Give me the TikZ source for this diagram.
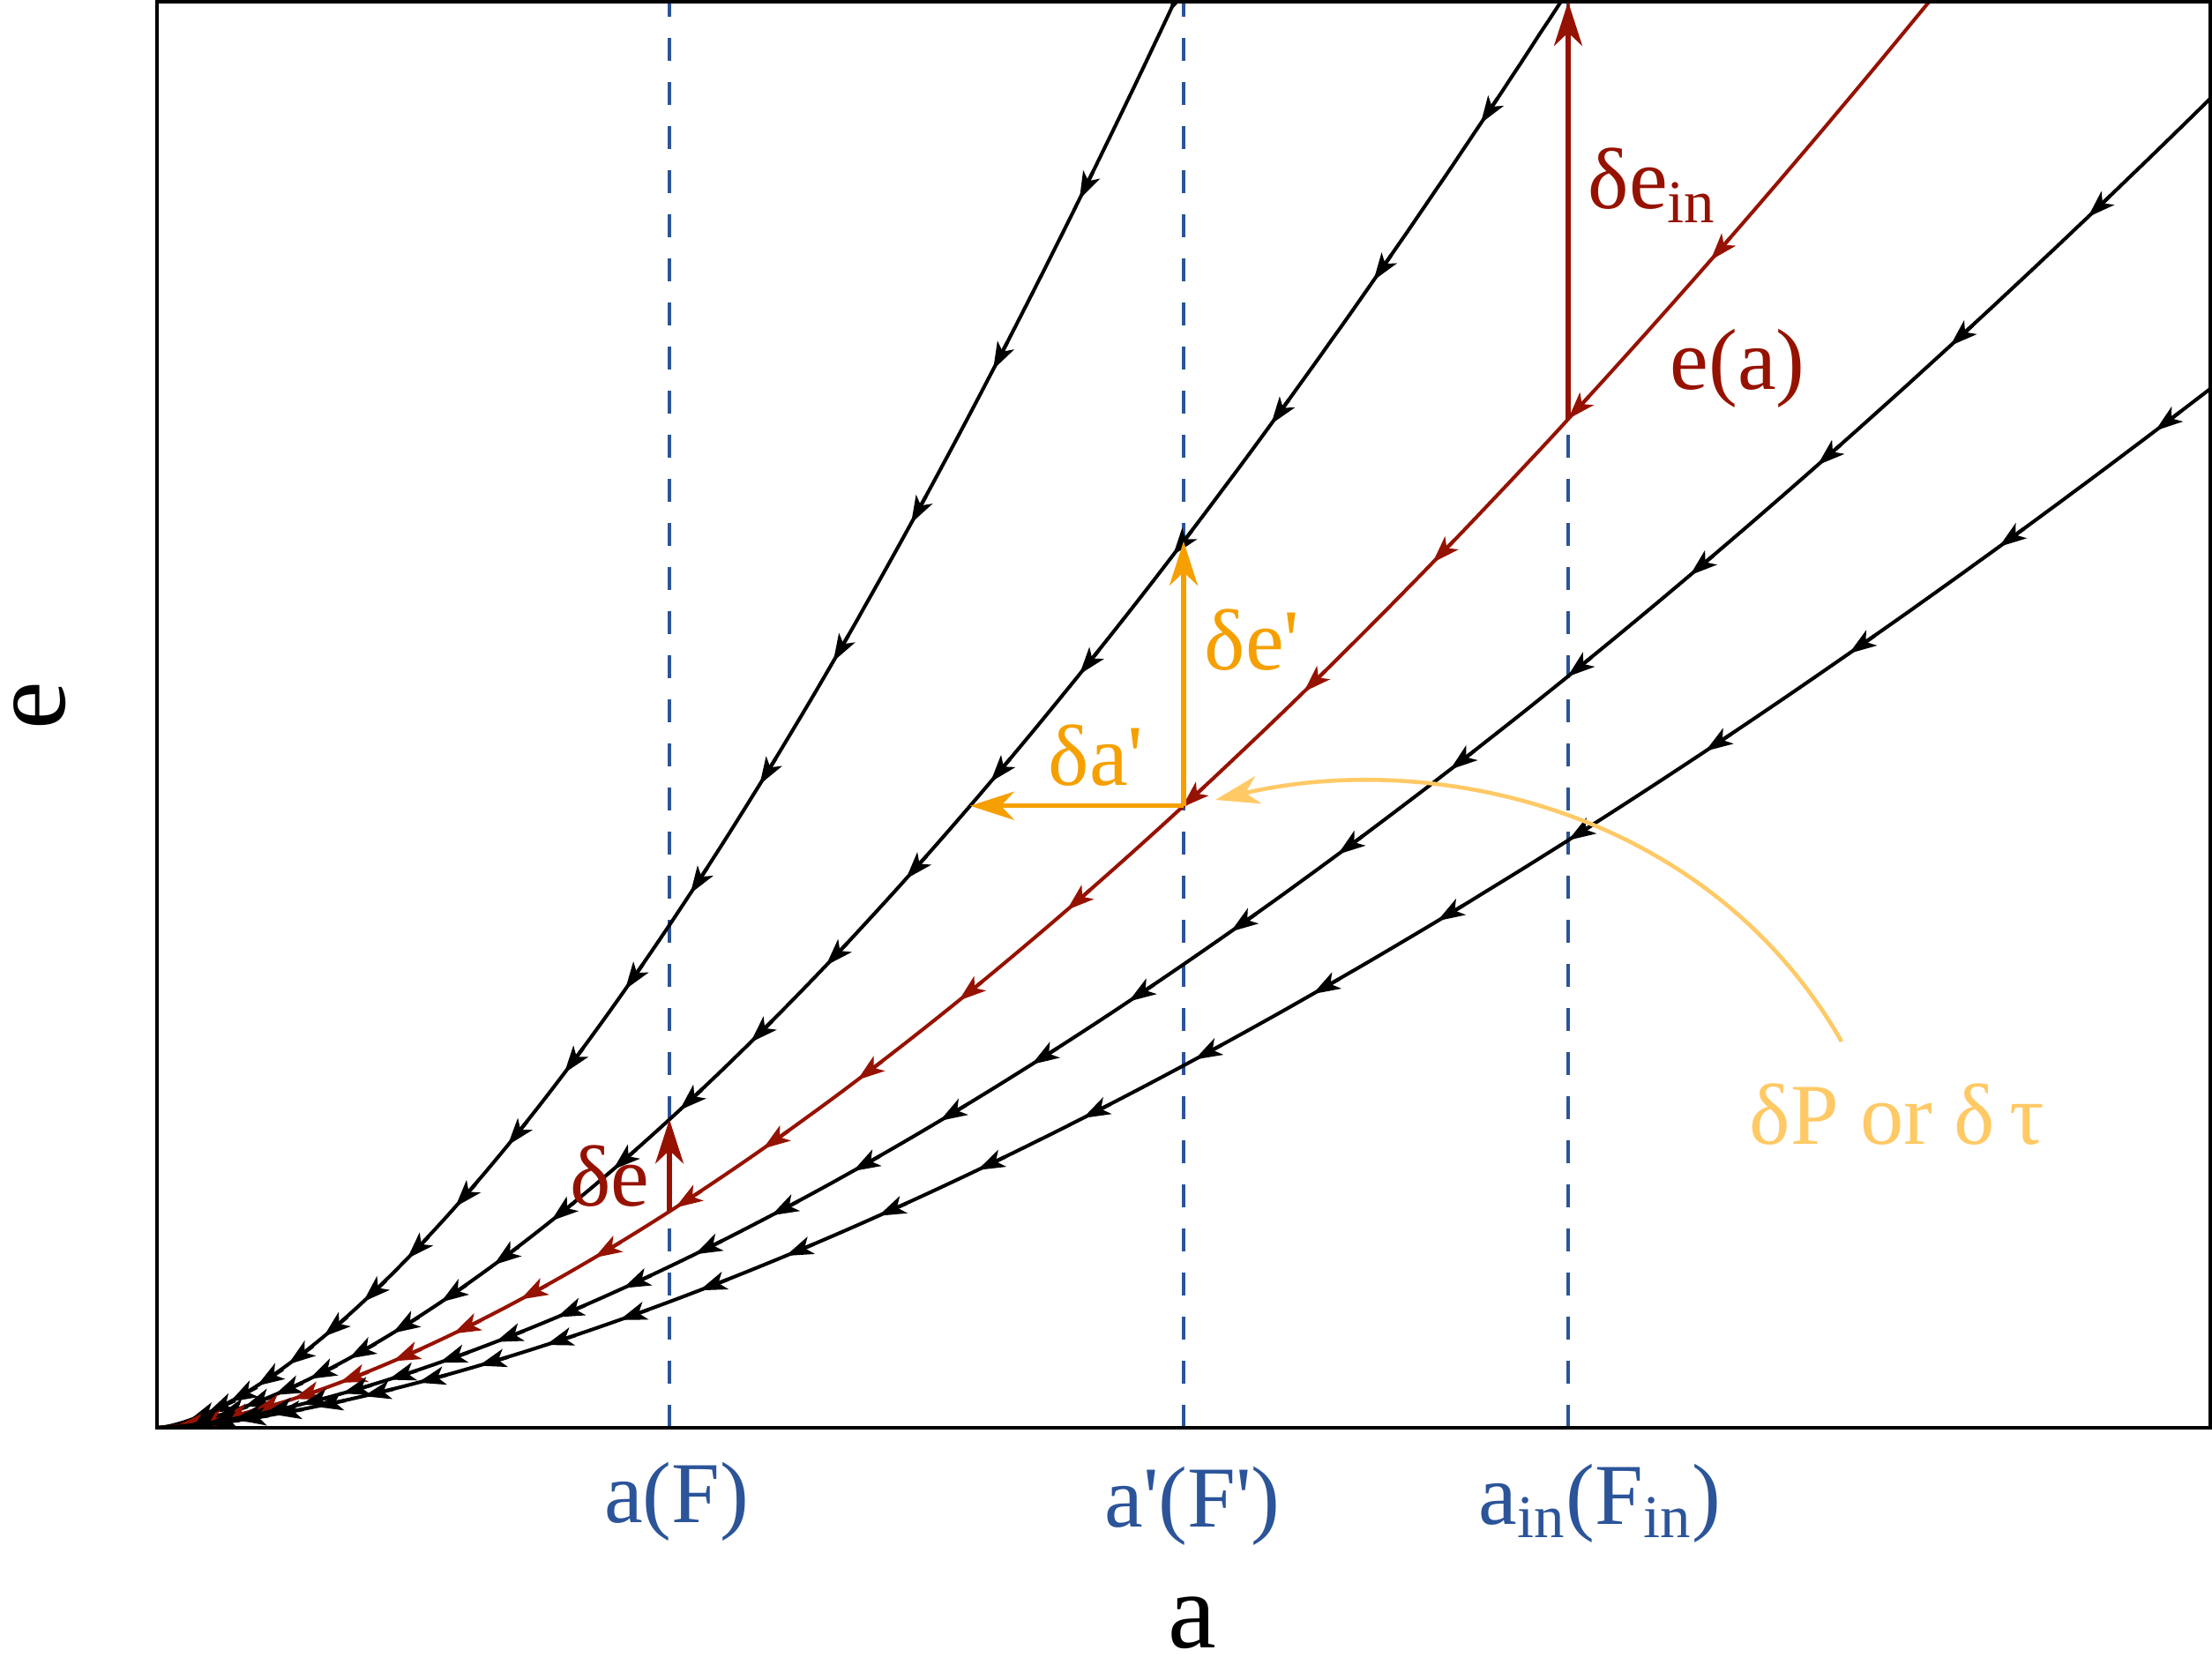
\documentclass[tikz,border=0pt]{standalone}
\usepackage{fontspec}
\newfontfamily\timesfont{Liberation Serif}
\usetikzlibrary{arrows.meta}

\definecolor{flowred}{RGB}{150,18,0}
\definecolor{tickblue}{RGB}{43,84,153}
\definecolor{deltaorange}{RGB}{245,160,0}
\definecolor{hintorange}{RGB}{255,201,102}

% straight prime mark
\newcommand{\sq}{{\addfontfeatures{Ligatures=TeXOff}'}}

% e = k a^1.52, arrow marks at equal steps of sqrt(a)
\newcommand{\flowcurve}[6]{%
  \draw[flowline, #1] (0,0) -- plot[domain=0.002:#3, samples=150] (\x, {#2*\x^1.52});
  \foreach \j in {0,...,#6} {
    \pgfmathsetmacro{\uu}{#4-#5*\j}
    \pgfmathsetmacro{\xx}{\uu*\uu}
    \pgfmathsetmacro{\yy}{#2*\xx^1.52}
    \pgfmathsetmacro{\ang}{atan(1.52*#2*\xx^0.52)}
    \draw[flowtip, #1] ([shift={(\ang:0.35)}]\xx,\yy) -- (\xx,\yy);
  }
}

\begin{document}
\begin{tikzpicture}[
    flowline/.style={line width=1.15pt},
    flowtip/.style={-{Stealth[length=0.31cm, width=0.21cm, inset=0.08cm]}, line width=1.15pt},
    bigarrow/.style={-{Stealth[length=0.5cm, width=0.32cm, inset=0.15cm]}, line width=1.45pt},
    guide/.style={tickblue, line width=0.95pt, dash pattern=on 0.26cm off 0.24cm},
    lbl/.style={font=\timesfont\fontsize{28}{34}\selectfont, inner sep=0pt},
    axislbl/.style={font=\timesfont\fontsize{35}{40}\selectfont, inner sep=0pt}
  ]
  \useasboundingbox (-1.78,-2.68) rectangle (23.30,16.19);

  % guides at a(F), a'(F'), a_in(F_in)
  \foreach \gx/\gname in {5.81/gF, 11.64/gFp, 16.0/gFin}
    \draw[guide] (\gx,0) coordinate (\gname) -- (\gx,16.17);

  % flow lines
  \begin{scope}
    \clip (0,0) rectangle (23.28,16.17);
    \flowcurve{black}{0.393}{11.6}{3.389}{0.155}{18}
    \flowcurve{black}{0.241}{16.0}{3.874}{0.16}{21}
    \flowcurve{flowred}{0.1691}{20.3}{4.197}{0.197}{19}
    \flowcurve{black}{0.126}{23.3}{4.679}{0.17}{24}
    \flowcurve{black}{0.0985}{23.3}{4.76}{0.19}{22}
  \end{scope}

  \draw[line width=0.95pt] (0,0) rectangle (23.28,16.17);

  % points on the red track and its neighbour
  \coordinate (redF) at (5.81,{0.1691*5.81^1.52});
  \coordinate (upF) at (5.81,{0.241*5.81^1.52});
  \coordinate (corner) at (11.64,{0.1691*11.64^1.52});
  \coordinate (upFp) at (11.64,{0.241*11.64^1.52});
  \coordinate (leftFp) at ({(0.1691*11.64^1.52/0.241)^(1/1.52)},{0.1691*11.64^1.52});
  \coordinate (redFin) at (16.0,{0.1691*16^1.52});
  \coordinate (topFin) at (16.0,16.17);

  \draw[bigarrow, flowred] (redF) -- (upF);
  \draw[bigarrow, flowred] (redFin) -- (topFin);
  \draw[bigarrow, deltaorange] (corner) -- (upFp);
  \draw[bigarrow, deltaorange] (corner) -- (leftFp);

  % hint arrow
  \coordinate (hintstart) at (19.10,4.38);
  \coordinate (hinttip) at (12.0,7.12);
  \draw[bigarrow, hintorange, line width=1.3pt] (hintstart) .. controls (17.6,7.0) and (14.5,7.7) .. (hinttip);

  % labels
  \node[lbl, flowred] (ealabel) at (17.92,12.01) {e(a)};
  \node[lbl, flowred, anchor=base west] (deinlabel) at (16.22,13.82) {δe\textsubscript{in}};
  \node[lbl, flowred, anchor=base east] (delabel) at (5.59,2.52) {δe};
  \node[lbl, deltaorange, anchor=base west] (deplabel) at (11.87,8.59) {δe\sq};
  \node[lbl, deltaorange, anchor=base west] (daplabel) at (10.10,7.29) {δa\sq};
  \node[lbl, hintorange, anchor=base] (hintlabel) at (19.73,3.22) {δP or δ\,τ};

  \node[lbl, tickblue, anchor=base] (tickF) at (5.89,-1.07) {a(F)};
  \node[lbl, tickblue, anchor=base] (tickFp) at (11.74,-1.12) {a\sq(F\sq)};
  \node[lbl, tickblue, anchor=base] (tickFin) at (16.36,-1.09) {a\textsubscript{in}(F\textsubscript{in})};

  \node[axislbl] (alabel) at (11.74,-2.21) {a};
  \node[axislbl, rotate=90] (elabel) at (-1.33,8.19) {e};
\end{tikzpicture}
\end{document}
